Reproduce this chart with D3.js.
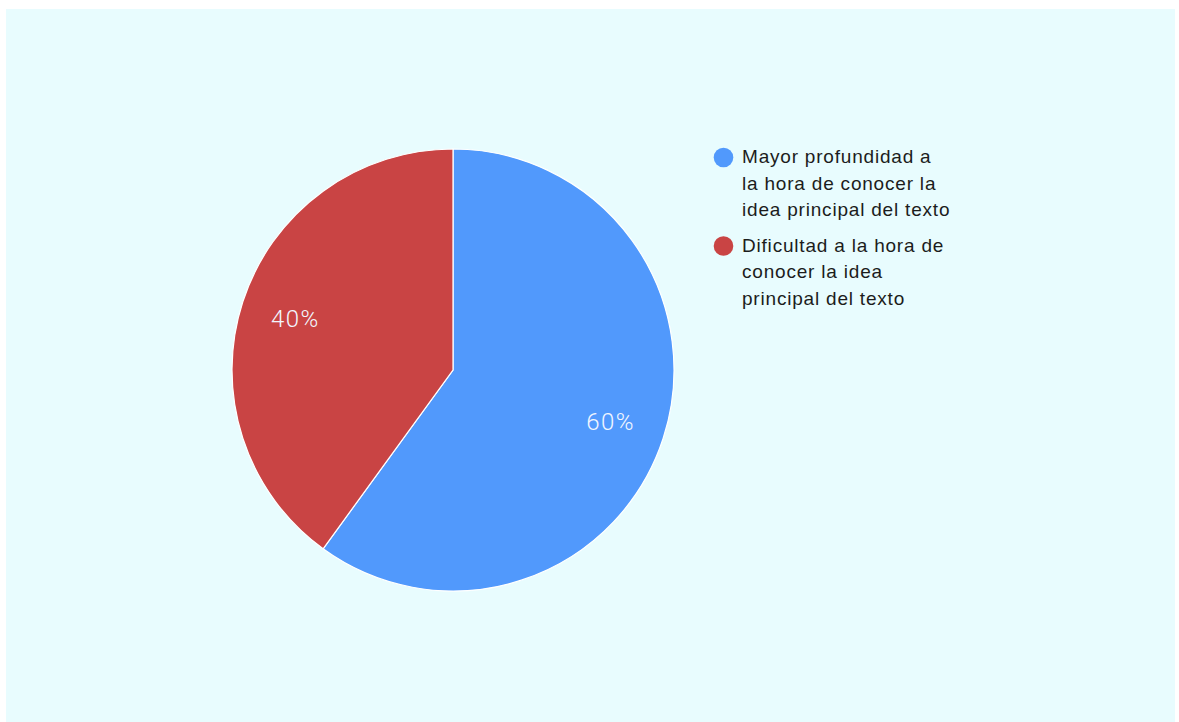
<!DOCTYPE html>
<html><head><meta charset="utf-8">
<script src="https://cdn.jsdelivr.net/npm/d3@7"></script>
<style>html,body{margin:0;padding:0;background:#fff;}svg{display:block;}</style>
</head><body>
<svg id="chart" width="1179" height="722"></svg>
<script>
const categories = [
  ["Mayor profundidad a", "la hora de conocer la", "idea principal del texto"],
  ["Dificultad a la hora de", "conocer la idea", "principal del texto"]
];
const values = [60, 40];
const colors = ["#5199fc", "#c94444"];

const svg = d3.select("#chart");
svg.append("rect").attr("x", 6).attr("y", 9).attr("width", 1169).attr("height", 713).attr("fill", "#e8fcfe");

const cx = 453, cy = 370, r = 221;
const pie = d3.pie().sort(null).value(d => d)(values);
const arc = d3.arc().innerRadius(0).outerRadius(r);
const labelArc = d3.arc().innerRadius(r * 0.75).outerRadius(r * 0.75);
const g = svg.append("g").attr("transform", `translate(${cx},${cy})`);
g.selectAll("path").data(pie).join("path")
  .attr("d", arc).attr("fill", (d, i) => colors[i])
  .attr("stroke", "#ffffff").attr("stroke-width", 1.2);
g.selectAll("text").data(pie).join("text")
  .attr("transform", d => `translate(${labelArc.centroid(d)})`)
  .attr("text-anchor", "middle").attr("dy", "0.36em")
  .attr("font-family", "Roboto").attr("font-weight", 300)
  .attr("font-size", 24).attr("letter-spacing", 1.5)
  .attr("fill", "#f2f6ff")
  .text(d => Math.round(d.data / d3.sum(values) * 100) + "%");

const lg = svg.append("g");
const itemY = [157.5, 246];
categories.forEach((lines, i) => {
  lg.append("circle").attr("cx", 723.5).attr("cy", itemY[i]).attr("r", 9.8).attr("fill", colors[i]);
  const t = lg.append("text").attr("x", 742).attr("y", itemY[i] + 5.5)
    .attr("font-family", "Liberation Sans, Arial, sans-serif").attr("font-size", 19)
    .attr("letter-spacing", 0.8).attr("fill", "#1c1c1c");
  lines.forEach((l, j) => t.append("tspan").attr("x", 742).attr("dy", j === 0 ? 0 : 26.5).text(l));
});
</script>
</body></html>
